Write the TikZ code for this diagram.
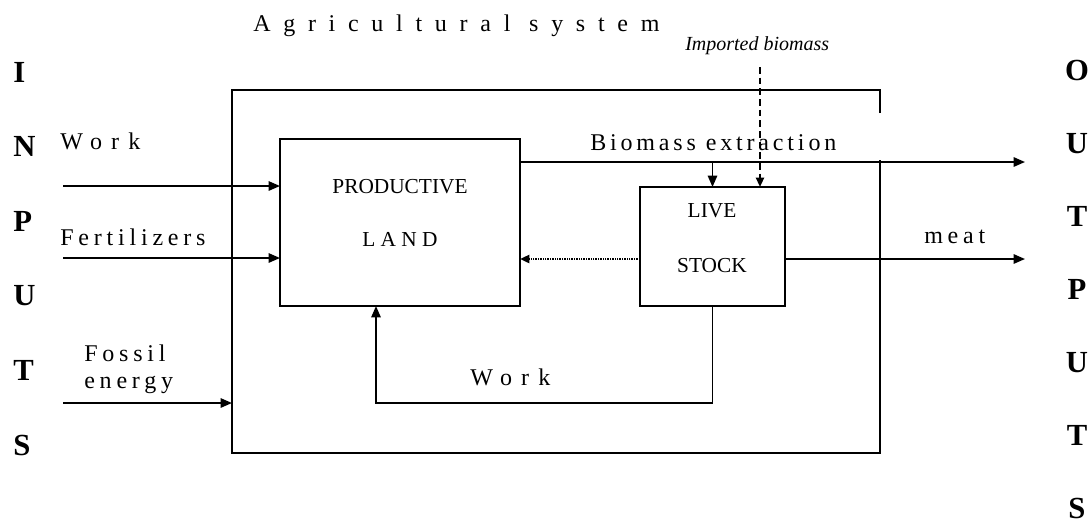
\documentclass[tikz,border=0pt]{standalone}
\usepackage{fontspec}
\setmainfont{Liberation Serif}
\newfontfamily\titlefont[LetterSpace=53]{Liberation Serif}
\newfontfamily\workfont[LetterSpace=38]{Liberation Serif}
\newfontfamily\tagfont[LetterSpace=20]{Liberation Serif}
\newfontfamily\biofont[LetterSpace=16]{Liberation Serif}
\newfontfamily\landfont[LetterSpace=25]{Liberation Serif}
\usetikzlibrary{arrows.meta, positioning, calc}

\begin{document}
\begin{tikzpicture}[
        x=0.75pt, y=-0.75pt,
        box/.style={rectangle, draw=black, line width=1pt, outer sep=0pt, inner sep=0pt},
        flow/.style={-{Triangle[length=8.5pt, width=7pt]}, line width=1.3pt},
        impflow/.style={-{Triangle[length=7pt, width=6pt]}, line width=1.5pt, dash pattern=on 5pt off 3pt},
        dotflow/.style={-{Triangle[length=7pt, width=6pt]}, line width=1.8pt, dash pattern=on 1pt off 0.8pt},
        tag/.style={inner sep=0pt, anchor=base west, font=\fontsize{18}{21}\selectfont},
        boxtext/.style={inner sep=0pt, anchor=base, font=\fontsize{16}{19}\selectfont},
        bigletter/.style={inner sep=0pt, font=\fontsize{23}{27}\selectfont\bfseries}
    ]
        \useasboundingbox (0,0) rectangle (1092,526);

        \node[box, minimum width=180pt, minimum height=125.25pt] (land) at (400,222.5) {};
        \node[box, minimum width=108.75pt, minimum height=89.25pt] (stock) at (712.5,246.5) {};
        \node[minimum width=486pt, minimum height=272.25pt, outer sep=0pt] (sys) at (556,271.5) {};
        \draw[line width=1pt] (sys.east |- 0,113) -- (sys.north east) -- (sys.north west)
            -- (sys.south west) -- (sys.south east) -- (sys.east |- 0,160);

        \node[boxtext] (prodtxt) at (400,193) {PRODUCTIVE};
        \node[boxtext, anchor=base west] (landtxt) at (362,246) {\landfont LAND};
        \node[boxtext] (livetxt) at (712,217) {LIVE};
        \node[boxtext] (stocktxt) at (712,272) {STOCK};

        \node[tag, font=\fontsize{18}{21}\selectfont\titlefont] (title) at (253,31) {Agricultural system};
        \node[tag, font=\fontsize{15}{18}\selectfont\itshape] (imptxt) at (685,50) {Imported biomass};
        \node[tag, font=\fontsize{18}{21}\selectfont\workfont] (worktxt) at (60,149) {Work};
        \node[tag, font=\fontsize{18}{21}\selectfont\tagfont] (ferttxt) at (60,245) {Fertilizers};
        \node[tag, font=\fontsize{18}{21}\selectfont\tagfont] (fossiltxt) at (84,361) {Fossil};
        \node[tag, font=\fontsize{18}{21}\selectfont\tagfont] (energytxt) at (84,388) {energy};
        \node[tag, font=\fontsize{18}{21}\selectfont\biofont] (biotxt) at (590,150) {Biomass extraction};
        \node[tag, font=\fontsize{18}{21}\selectfont\tagfont] (meattxt) at (924,243) {meat};
        \node[tag, font=\fontsize{18}{21}\selectfont\workfont] (loopwork) at (470,385) {Work};

        \foreach \ch [count=\i] in {I,N,P,U,T,S}
            \node[bigletter, anchor=base west] (in\i) at (13,{82+74.6*(\i-1)}) {\ch};
        \foreach \ch [count=\i] in {O,U,T,P,U,T,S}
            \node[bigletter, anchor=base] (out\i) at (1077,{80+73*(\i-1)}) {\ch};

        \coordinate (workin) at (63,186);
        \coordinate (fertin) at (63,258);
        \coordinate (fossilin) at (63,403);
        \coordinate (bioout) at (1025,162);
        \coordinate (meatout) at (1025,259);
        \coordinate (impstart) at (760,67);
        \coordinate (loopcorner) at (376,403);

        \draw[flow] (workin) -- (workin -| land.west);
        \draw[flow] (fertin) -- (fertin -| land.west);
        \draw[flow] (fossilin) -- (fossilin -| sys.west);
        \draw[flow] (land.east |- bioout) -- (bioout);
        \draw[flow] (stock.north |- bioout) -- (stock.north);
        \draw[impflow] (impstart) -- (impstart |- stock.north);
        \draw[flow] (stock.east |- meatout) -- (meatout);
        \draw[dotflow] (stock.west |- meatout) -- (land.east |- meatout);
        \draw[flow] (stock.south) |- (loopcorner) -- (loopcorner |- land.south);
    \end{tikzpicture}
\end{document}
